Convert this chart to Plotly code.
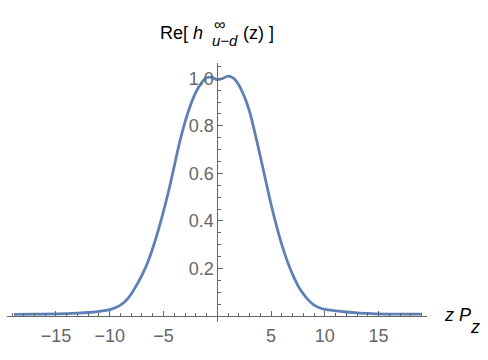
import plotly.graph_objects as go

# Data
z_vals = [-18.9, -17, -15, -14, -13, -12, -11, -10, -9.5, -9, -8.5, -8, -7.5, -7, -6.5, -6,
          -5.5, -5, -4.5, -4, -3.5, -3, -2.5, -2, -1.5, -1, -0.5, 0, 0.5, 1, 1.5, 2,
          2.5, 3, 3.5, 4, 4.5, 5, 5.5, 6, 6.5, 7, 7.5, 8, 8.5, 9, 9.5, 10, 11, 12, 13,
          14, 15, 17, 19]
re_h = [0.007, 0.008, 0.009, 0.010, 0.012, 0.015, 0.020, 0.027, 0.035, 0.046, 0.064, 0.093,
        0.130, 0.172, 0.222, 0.285, 0.358, 0.440, 0.530, 0.630, 0.730, 0.815, 0.885,
        0.940, 0.978, 1.002, 1.004, 0.994, 0.999, 1.009, 1.000, 0.972, 0.925, 0.860,
        0.770, 0.672, 0.570, 0.470, 0.380, 0.300, 0.232, 0.175, 0.128, 0.093, 0.066,
        0.046, 0.035, 0.028, 0.022, 0.017, 0.013, 0.011, 0.009, 0.008, 0.008]

x_ticks = [-15, -10, -5, 5, 10, 15]
x_ticktext = ["\u221215", "\u221210", "\u22125", "5", "10", "15"]
y_ticks = [0.2, 0.4, 0.6, 0.8, 1.0]
y_ticktext = ["0.2", "0.4", "0.6", "0.8", "1.0"]

X_RANGE = [-19.55, 19.5]
Y_RANGE = [-0.025, 1.064]

AX = "#666666"
FONT = "Liberation Sans, Arial, sans-serif"

fig = go.Figure()
fig.add_trace(go.Scatter(x=z_vals, y=re_h, mode="lines",
                         line=dict(color="#5E81B5", width=2.8, shape="spline", smoothing=1.0),
                         hoverinfo="skip"))

xpos0 = (0 - X_RANGE[0]) / (X_RANGE[1] - X_RANGE[0])
ypos0 = (0 - Y_RANGE[0]) / (Y_RANGE[1] - Y_RANGE[0])

fig.update_layout(
    width=488, height=360,
    margin=dict(l=7, r=61, t=63, b=38, pad=0, autoexpand=False),
    paper_bgcolor="white", plot_bgcolor="white",
    showlegend=False,
    font=dict(family=FONT, size=16, color=AX),
    xaxis=dict(range=X_RANGE, anchor="free", position=ypos0, automargin=False,
               showgrid=False, zeroline=False, showline=True, linecolor=AX, linewidth=1,
               tickmode="array", tickvals=x_ticks, ticktext=x_ticktext,
               ticks="inside", ticklen=5, tickcolor=AX, tickwidth=1, ticklabelstandoff=3,
               tickfont=dict(family=FONT, size=18, color=AX),
               minor=dict(dtick=1, tick0=0, ticks="inside", ticklen=3, tickcolor=AX, tickwidth=1)),
    yaxis=dict(range=Y_RANGE, anchor="free", position=xpos0, automargin=False,
               showgrid=False, zeroline=False, showline=True, linecolor=AX, linewidth=1,
               tickmode="array", tickvals=y_ticks, ticktext=y_ticktext,
               ticks="inside", ticklen=5, tickcolor=AX, tickwidth=1,
               tickfont=dict(family=FONT, size=18, color=AX),
               minor=dict(dtick=0.05, tick0=0, ticks="inside", ticklen=3, tickcolor=AX, tickwidth=1)),
)

def px2paper(px, py):
    return (px - 7) / 420.0, (322 - py) / 259.0

def ann(text, px, py, size, xanchor="left"):
    x, y = px2paper(px, py)
    fig.add_annotation(text=text, x=x, y=y, xref="paper", yref="paper",
                       xanchor=xanchor, yanchor="middle", showarrow=False,
                       font=dict(family=FONT, size=size, color="black"))

# Title: Re[ h^inf_{u-d}(z) ]
ann("Re[ <i>h</i>", 158, 33, 18)
ann("\u221e", 219, 24, 16, "center")
ann("<i>u\u2212d</i>", 225, 41, 15, "center")
ann("(z) ]", 241, 33, 18)
# Axis label: z P_z
ann("<i>z P</i>", 442, 315, 18)
ann("<i>z</i>", 468, 327, 18)

fig.write_html("out.html", config={"displayModeBar": False},
               post_script="document.body.style.margin='0';document.body.style.padding='0';")
